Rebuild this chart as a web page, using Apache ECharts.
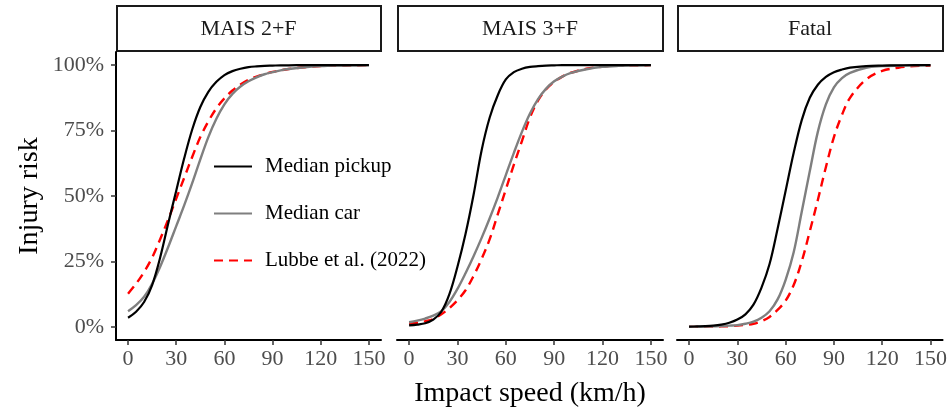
<!DOCTYPE html>
<html>
<head>
<meta charset="utf-8">
<script src="https://cdn.jsdelivr.net/npm/echarts@6/dist/echarts.min.js"></script>
<style>
  html, body { margin: 0; padding: 0; background: #fff; }
  #chart { width: 950px; height: 414px; }
</style>
</head>
<body>
<div id="chart"></div>
<script>
// impact speed (km/h)
const speed = [0, 5, 10, 15, 20, 25, 30, 35, 40, 45, 50, 55, 60, 65, 70, 75, 80, 85, 90, 95, 100, 110, 120, 130, 140, 150];

const panels = ['MAIS 2+F', 'MAIS 3+F', 'Fatal'];
const seriesNames = ['Median pickup', 'Median car', 'Lubbe et al. (2022)'];
const xTicks = [0, 30, 60, 90, 120, 150];
const yTicks = [0, 25, 50, 75, 100];

// injury risk (%)
const pickupM2 = [3.5, 5.8, 9.5, 16, 26.5, 39.5, 52, 64.5, 75.5, 84, 89.8, 93.6, 96.2, 97.7, 98.6, 99.2, 99.5, 99.7, 99.8, 99.9, 99.9, 100, 100, 100, 100, 100];
const carM2 = [6, 8.3, 11.5, 16.5, 23, 30.5, 38.5, 46.5, 55, 64, 72.5, 79.5, 85, 89, 91.8, 93.8, 95.3, 96.5, 97.3, 98, 98.5, 99.2, 99.6, 99.8, 99.9, 100];
const lubbeM2 = [12.7, 16.5, 21, 26.5, 33.5, 41, 49, 57, 65, 72.5, 78.5, 83.5, 87.3, 90.3, 92.6, 94.4, 95.6, 96.6, 97.4, 98, 98.5, 99.2, 99.6, 99.8, 99.9, 100];

const pickupM3 = [0.6, 0.9, 1.4, 2.8, 5.8, 12.5, 23, 35.5, 50.5, 67.5, 80, 88.5, 94.5, 97.3, 98.6, 99.3, 99.6, 99.8, 99.9, 100, 100, 100, 100, 100, 100, 100];
const carM3 = [1.8, 2.4, 3.2, 4.3, 6, 9.5, 14.5, 20.5, 27, 34, 41.5, 49.5, 58, 66.5, 74.5, 81.5, 87, 91, 93.8, 95.6, 96.9, 98.4, 99.3, 99.7, 99.9, 100];
const lubbeM3 = [1.2, 1.6, 2.2, 3, 4.8, 7.2, 10.2, 14, 19.5, 26, 33.5, 43, 52.5, 62, 71, 80, 86.5, 90.8, 93.6, 95.6, 97, 98.6, 99.4, 99.8, 99.9, 100];

const pickupF = [0.1, 0.2, 0.3, 0.5, 0.9, 1.6, 2.8, 4.8, 8.5, 15, 24, 37.5, 52, 66.5, 79, 87.5, 92.5, 95.5, 97.3, 98.3, 99, 99.6, 99.8, 99.9, 100, 100];
const carF = [0, 0.1, 0.1, 0.2, 0.3, 0.5, 0.7, 1.2, 2, 3.5, 6, 10.5, 18, 28.5, 44, 59.5, 74.5, 85, 91.5, 95, 97, 99, 99.6, 99.8, 99.9, 100];
const lubbeF = [0, 0, 0.1, 0.1, 0.2, 0.3, 0.5, 0.8, 1.2, 2.2, 3.8, 6.5, 10, 16, 25, 36.5, 48.5, 61, 72.5, 81, 87.5, 94.5, 97.8, 99, 99.6, 99.8];

const panelData = [
  [pickupM2, carM2, lubbeM2],
  [pickupM3, carM3, lubbeM3],
  [pickupF, carF, lubbeF]
];

const font = "'Liberation Serif', 'DejaVu Serif', serif";
const grids = [
  { left: 116, top: 52, width: 265, height: 288 },
  { left: 397, top: 52, width: 266, height: 288 },
  { left: 677, top: 52, width: 266, height: 288 }
];
const lineStyles = [
  { color: '#000000', width: 2.2, type: 'solid' },
  { color: '#7f7f7f', width: 2.4, type: 'solid' },
  { color: '#ff0000', width: 2.4, type: [9, 6] }
];

const chart = echarts.init(document.getElementById('chart'));

const xAxes = grids.map((g, i) => ({
  type: 'value',
  gridIndex: i,
  min: -7.5,
  max: 157.5,
  splitLine: { show: false },
  axisLine: { show: true, onZero: false, lineStyle: { color: '#000', width: 2 } },
  axisTick: { show: true, length: 5, customValues: xTicks, lineStyle: { color: '#333', width: 1.5 } },
  axisLabel: { customValues: xTicks, margin: 8, color: '#4d4d4d', fontSize: 22, fontFamily: font },
  name: i === 1 ? 'Impact speed (km/h)' : '',
  nameLocation: 'middle',
  nameGap: 40,
  nameTextStyle: { color: '#000', fontSize: 28, fontFamily: font }
}));

const yAxes = grids.map((g, i) => ({
  type: 'value',
  gridIndex: i,
  min: -5,
  max: 105,
  splitLine: { show: false },
  axisLine: { show: i === 0, onZero: false, lineStyle: { color: '#000', width: 2 } },
  axisTick: { show: i === 0, length: 5, customValues: yTicks, lineStyle: { color: '#333', width: 1.5 } },
  axisLabel: { show: i === 0, customValues: yTicks, formatter: '{value}%', margin: 12, color: '#4d4d4d', fontSize: 22, fontFamily: font },
  name: i === 0 ? 'Injury risk' : '',
  nameLocation: 'middle',
  nameGap: 72,
  nameTextStyle: { color: '#000', fontSize: 28, fontFamily: font }
}));

const series = [];
panelData.forEach((rows, p) => {
  rows.forEach((vals, s) => {
    series.push({
      name: seriesNames[s],
      type: 'line',
      xAxisIndex: p,
      yAxisIndex: p,
      data: speed.map((v, k) => [v, vals[k]]),
      symbol: 'none',
      smooth: 0.35,
      z: 3 - s,
      lineStyle: lineStyles[s],
      itemStyle: { color: lineStyles[s].color }
    });
  });
});

const strips = [];
grids.forEach((g, i) => {
  strips.push({
    type: 'rect',
    shape: { x: g.left + 1, y: 6, width: g.width - 1, height: 45 },
    style: { fill: '#fff', stroke: '#1a1a1a', lineWidth: 2 }
  });
  strips.push({
    type: 'text',
    x: g.left + g.width / 2,
    y: 29,
    style: { text: panels[i], fontSize: 22, fontFamily: font, fill: '#1a1a1a', align: 'center', verticalAlign: 'middle' }
  });
});

chart.setOption({
  animation: false,
  backgroundColor: '#fff',
  grid: grids,
  xAxis: xAxes,
  yAxis: yAxes,
  legend: {
    data: seriesNames,
    orient: 'vertical',
    left: 208,
    top: 151,
    itemWidth: 38,
    itemHeight: 14,
    itemGap: 26,
    itemStyle: { opacity: 0 },
    textStyle: { fontSize: 21, fontFamily: font, color: '#000', padding: [0, 0, 0, 8] }
  },
  graphic: strips,
  series: series
});
</script>
</body>
</html>
